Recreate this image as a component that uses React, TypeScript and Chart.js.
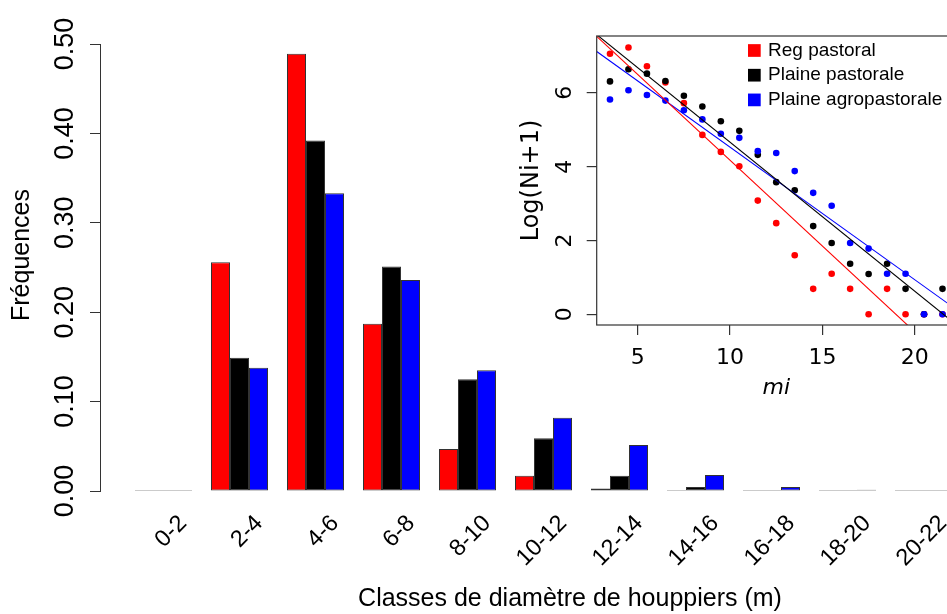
import React, { useEffect, useRef } from 'react';
import { Chart, registerables } from 'chart.js';

Chart.register(...registerables);

// ---------- main bar chart data ----------
const categories = ['0-2', '2-4', '4-6', '6-8', '8-10', '10-12', '12-14', '14-16', '16-18', '18-20', '20-22'];
const regPastoral = [0, 0.256, 0.489, 0.187, 0.047, 0.017, 0.0028, 0.0003, 0, 0, 0];
const plainePastorale = [0, 0.149, 0.392, 0.251, 0.125, 0.059, 0.017, 0.0045, 0.001, 0.0005, 0];
const plaineAgropastorale = [0, 0.138, 0.333, 0.236, 0.135, 0.082, 0.0515, 0.018, 0.0045, 0.0015, 0.0003];
const mainYTicks = [0, 0.1, 0.2, 0.3, 0.4, 0.5];

const seriesLabels = ['Reg pastoral', 'Plaine pastorale', 'Plaine agropastorale'];
const seriesColors = ['#ff0000', '#000000', '#0000ff'];

const mainXTitle = 'Classes de diamètre de houppiers (m)';
const mainYTitle = 'Fréquences';

// ---------- inset scatter data ----------
const miValues = [3.5, 4.5, 5.5, 6.5, 7.5, 8.5, 9.5, 10.5, 11.5, 12.5, 13.5, 14.5, 15.5, 16.5, 17.5, 18.5, 19.5, 20.5, 21.5];
const logReg = [7.06, 7.23, 6.72, 6.28, 5.72, 4.86, 4.40, 4.01, 3.08, 2.47, 1.60, 0.69, 1.10, 0.69, 0, 0.69, 0, 0, 0];
const logPlainePast = [6.31, 6.64, 6.52, 6.32, 5.92, 5.63, 5.23, 4.97, 4.32, 3.58, 3.36, 2.39, 1.93, 1.37, 1.09, 1.37, 0.69, 0, 0.69];
const logPlaineAgro = [5.82, 6.07, 5.94, 5.79, 5.53, 5.28, 4.89, 4.78, 4.42, 4.37, 3.88, 3.29, 2.94, 1.93, 1.78, 1.10, 1.10, 0, 0];
const fitIntercepts = [8.82, 8.70, 8.118];
const fitSlopes = [-0.4648, -0.4038, -0.3591];
const insetXTicks = [5, 10, 15, 20];
const insetYTicks = [0, 2, 4, 6];
const insetXTitle = 'mi';
const insetYTitle = 'Log(Ni+1)';

// ---------- layout constants ----------
const SANS = "'Liberation Sans', Arial, Helvetica, sans-serif";
const DEJAVU = "'DejaVu Sans', sans-serif";
const MAIN_W = 1040;
const MAIN_H = 614;
const CAT_PX = 76;
const CAT0_PX = 163.5;
const MAIN_LEFT = 100;
const mainXMin = -(CAT0_PX - MAIN_LEFT) / CAT_PX;
const mainXMax = mainXMin + (MAIN_W - MAIN_LEFT) / CAT_PX;

const INSET_LEFT = 480;
const INSET_W = 520;
const INSET_H = 420;
const insetXMin = 2.78;
const insetXMax = 22.22;
const insetYMin = -0.29;
const insetYMax = 7.54;

const mainYTitlePlugin = {
  id: 'mainYTitle',
  afterDraw(chart: any) {
    const ctx = chart.ctx;
    ctx.save();
    ctx.translate(22, 255);
    ctx.rotate(-Math.PI / 2);
    ctx.font = `25px ${SANS}`;
    ctx.fillStyle = '#000';
    ctx.textAlign = 'center';
    ctx.textBaseline = 'middle';
    ctx.fillText(mainYTitle, 0, 0);
    ctx.restore();
  },
};

const insetBoxPlugin = {
  id: 'insetBox',
  afterDraw(chart: any) {
    const { ctx, chartArea } = chart;
    ctx.save();
    ctx.strokeStyle = '#333';
    ctx.lineWidth = 1.2;
    ctx.strokeRect(chartArea.left, chartArea.top, chartArea.right - chartArea.left, chartArea.bottom - chartArea.top);
    ctx.restore();
  },
};

const insetLegendPlugin = {
  id: 'insetLegend',
  afterDraw(chart: any) {
    const ctx = chart.ctx;
    ctx.save();
    ctx.font = `19px ${SANS}`;
    ctx.textBaseline = 'middle';
    ctx.textAlign = 'left';
    seriesLabels.forEach((lab, i) => {
      const y = 50.5 + i * 24.7;
      ctx.fillStyle = seriesColors[i];
      ctx.fillRect(268, y - 6.35, 12.7, 12.7);
      ctx.fillStyle = '#000';
      ctx.fillText(lab, 288, y);
    });
    ctx.restore();
  },
};

export default function App() {
  const mainRef = useRef<HTMLCanvasElement | null>(null);
  const insetRef = useRef<HTMLCanvasElement | null>(null);

  useEffect(() => {
    if (!mainRef.current || !insetRef.current) return;
    const barSeries = [regPastoral, plainePastorale, plaineAgropastorale];
    const main = new Chart(mainRef.current, {
      type: 'bar',
      data: {
        datasets: barSeries.map((vals, s) => ({
          label: seriesLabels[s],
          data: vals.map((v, i) => ({ x: i, y: v })),
          backgroundColor: seriesColors[s],
          borderColor: '#333',
          borderWidth: 1,
          borderSkipped: false,
          minBarLength: 1,
          categoryPercentage: 0.75,
          barPercentage: 1,
        })) as any,
      },
      options: {
        animation: false,
        responsive: false,
        events: [],
        layout: { padding: { top: 44, left: 0, right: 0, bottom: 0 } },
        plugins: { legend: { display: false }, tooltip: { enabled: false } },
        scales: {
          x: {
            type: 'linear',
            offset: false,
            min: mainXMin,
            max: mainXMax,
            bounds: 'data',
            afterBuildTicks: (sc: any) => {
              sc.ticks = categories.map((_, i) => ({ value: i }));
            },
            afterFit: (sc: any) => {
              sc.height = MAIN_H - 491;
            },
            grid: { display: false, offset: false },
            border: { display: false },
            ticks: {
              autoSkip: false,
              minRotation: 45,
              maxRotation: 45,
              labelOffset: 19.7,
              padding: 10.7,
              color: '#000',
              font: { family: SANS, size: 23.5 },
              callback: (_v: any, i: number) => categories[i],
            },
            title: {
              display: true,
              text: mainXTitle,
              color: '#000',
              font: { family: SANS, size: 25 },
              padding: { top: 0, bottom: 0 },
            },
          },
          y: {
            min: 0,
            max: 0.5,
            afterBuildTicks: (sc: any) => {
              sc.ticks = mainYTicks.map((v) => ({ value: v }));
            },
            afterFit: (sc: any) => {
              sc.width = MAIN_LEFT;
            },
            grid: { drawOnChartArea: false, drawTicks: true, tickLength: 10, color: '#333', lineWidth: 1 },
            border: { display: true, color: '#333', width: 1 },
            ticks: {
              minRotation: 90,
              maxRotation: 90,
              crossAlign: 'center',
              padding: -2,
              color: '#000',
              font: { family: SANS, size: 27 },
              callback: (v: any) => Number(v).toFixed(2),
            },
          },
        },
      } as any,
      plugins: [mainYTitlePlugin],
    });

    const logSeries = [logReg, logPlainePast, logPlaineAgro];
    const inset = new Chart(insetRef.current, {
      type: 'scatter',
      data: {
        datasets: [
          ...fitIntercepts.map((a, s) => ({
            label: 'fit ' + seriesLabels[s],
            data: [insetXMin, insetXMax].map((x) => ({ x, y: a + fitSlopes[s] * x })),
            borderColor: seriesColors[s],
            backgroundColor: seriesColors[s],
            borderWidth: 1.1,
            pointRadius: 0,
            showLine: true,
            fill: false,
            order: 0,
          })),
          ...logSeries.map((vals, s) => ({
            label: seriesLabels[s],
            data: miValues.map((x, i) => ({ x, y: vals[i] })),
            backgroundColor: seriesColors[s],
            borderColor: seriesColors[s],
            borderWidth: 0,
            pointRadius: 3.3,
            showLine: false,
            order: 3 - s,
          })),
        ] as any,
      },
      options: {
        animation: false,
        responsive: false,
        events: [],
        layout: { padding: { top: 36, left: 0, right: INSET_W - (955.8 - INSET_LEFT), bottom: 0 } },
        plugins: { legend: { display: false }, tooltip: { enabled: false } },
        scales: {
          x: {
            type: 'linear',
            offset: false,
            min: insetXMin,
            max: insetXMax,
            bounds: 'data',
            afterBuildTicks: (sc: any) => {
              sc.ticks = insetXTicks.map((v) => ({ value: v }));
            },
            afterFit: (sc: any) => {
              sc.height = INSET_H - 325;
            },
            grid: { drawOnChartArea: false, drawTicks: true, tickLength: 10, color: '#333', lineWidth: 1.2 },
            border: { display: false },
            ticks: {
              autoSkip: false,
              maxRotation: 0,
              padding: 10,
              color: '#000',
              font: { family: DEJAVU, size: 22 },
              callback: (v: any) => String(v),
            },
            title: {
              display: true,
              text: insetXTitle,
              color: '#000',
              font: { family: DEJAVU, size: 22, style: 'italic' },
              padding: { top: 0, bottom: 18.8 },
            },
          },
          y: {
            type: 'linear',
            min: insetYMin,
            max: insetYMax,
            bounds: 'data',
            afterBuildTicks: (sc: any) => {
              sc.ticks = insetYTicks.map((v) => ({ value: v }));
            },
            afterFit: (sc: any) => {
              sc.width = 596.7 - INSET_LEFT;
            },
            grid: { drawOnChartArea: false, drawTicks: true, tickLength: 10, color: '#333', lineWidth: 1.2 },
            border: { display: false },
            ticks: {
              minRotation: 90,
              maxRotation: 90,
              crossAlign: 'center',
              padding: 14.7,
              color: '#000',
              font: { family: DEJAVU, size: 22 },
              callback: (v: any) => String(v),
            },
            title: {
              display: true,
              text: insetYTitle,
              color: '#000',
              font: { family: DEJAVU, size: 24 },
              padding: { top: 37.6, bottom: 0 },
            },
          },
        },
      } as any,
      plugins: [insetBoxPlugin, insetLegendPlugin],
    });

    return () => {
      main.destroy();
      inset.destroy();
    };
  }, []);

  return (
    <div
      style={{
        position: 'absolute',
        left: 0,
        top: 0,
        width: 947,
        height: 614,
        overflow: 'hidden',
        background: '#fff',
      }}
    >
      <canvas
        ref={mainRef}
        width={MAIN_W}
        height={MAIN_H}
        style={{ position: 'absolute', left: 0, top: 0, width: MAIN_W, height: MAIN_H }}
      />
      <canvas
        ref={insetRef}
        width={INSET_W}
        height={INSET_H}
        style={{ position: 'absolute', left: INSET_LEFT, top: 0, width: INSET_W, height: INSET_H }}
      />
    </div>
  );
}
